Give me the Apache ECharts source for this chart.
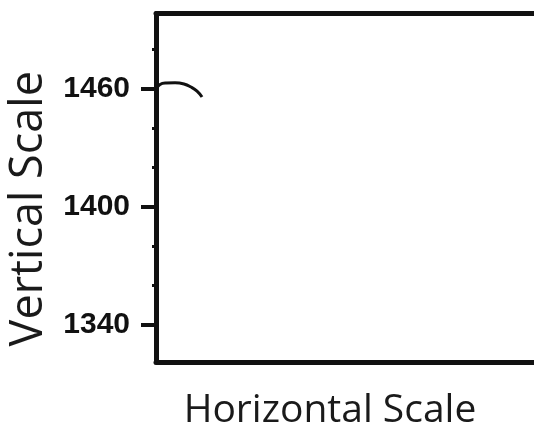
<!DOCTYPE html>
<html>
<head>
<meta charset="utf-8">
<script src="https://cdn.jsdelivr.net/npm/echarts@6.0.0/dist/echarts.min.js"></script>
<style>
html,body{margin:0;padding:0;background:#fff;}
#chart{width:534px;height:432px;}
</style>
</head>
<body>
<div id="chart"></div>
<script>
// Data
const curveX = [0, 1.06, 2.65, 5.03, 7.41, 9.26, 10.85, 12.17];
const curveY = [1459.2, 1462.0, 1462.75, 1462.85, 1462.25, 1460.7, 1458.6, 1455.65];
const majorTicks = [1340, 1400, 1460];
const minorTicks = [1360, 1380, 1420, 1440, 1480];
const yMin = 1321.2, yMax = 1498;
const xMin = 0, xMax = 100;
const xTitle = 'Horizontal Scale';
const yTitle = 'Vertical Scale';

const points = curveX.map((x, i) => [x, curveY[i]]);
const ink = '#111';

const chart = echarts.init(document.getElementById('chart'), null, {renderer: 'canvas'});
chart.setOption({
  animation: false,
  backgroundColor: '#fff',
  grid: {left: 156, right: 0, top: 13.5, bottom: 70, containLabel: false, outerBoundsMode: 'none'},
  xAxis: [
    {
      type: 'value', min: xMin, max: xMax, position: 'bottom',
      name: xTitle, nameLocation: 'middle', nameGap: 29,
      nameTextStyle: {fontFamily: 'Open Sans', fontSize: 39, color: '#1a1a1a', padding: [0, 30, 0, 0]},
      axisLine: {show: true, lineStyle: {color: ink, width: 5}},
      axisTick: {show: false}, axisLabel: {show: false}, splitLine: {show: false}
    },
    {
      type: 'value', min: xMin, max: xMax, position: 'top',
      axisLine: {show: true, lineStyle: {color: ink, width: 5}},
      axisTick: {show: false}, axisLabel: {show: false}, splitLine: {show: false}
    }
  ],
  yAxis: [
    {
      type: 'value', min: yMin, max: yMax, position: 'left',
      name: yTitle, nameLocation: 'middle', nameGap: 104,
      nameTextStyle: {fontFamily: 'Open Sans', fontSize: 45, color: '#1a1a1a', padding: [0, 42, 0, 0]},
      axisLine: {show: true, lineStyle: {color: ink, width: 5}},
      axisTick: {show: true, customValues: majorTicks, length: 15, lineStyle: {color: ink, width: 4}},
      axisLabel: {show: true, customValues: majorTicks, margin: 26,
        formatter: v => String(v),
        fontFamily: 'Liberation Sans', fontWeight: 'bold', fontSize: 30, color: ink},
      splitLine: {show: false}
    },
    {
      type: 'value', min: yMin, max: yMax, position: 'left',
      axisLine: {show: false},
      axisTick: {show: true, customValues: minorTicks, length: 4, lineStyle: {color: ink, width: 3}},
      axisLabel: {show: false}, splitLine: {show: false}
    }
  ],
  series: [{
    type: 'line', data: points, smooth: 0.5, symbol: 'none',
    xAxisIndex: 0, yAxisIndex: 0,
    lineStyle: {color: ink, width: 3}
  }]
});
</script>
</body>
</html>
